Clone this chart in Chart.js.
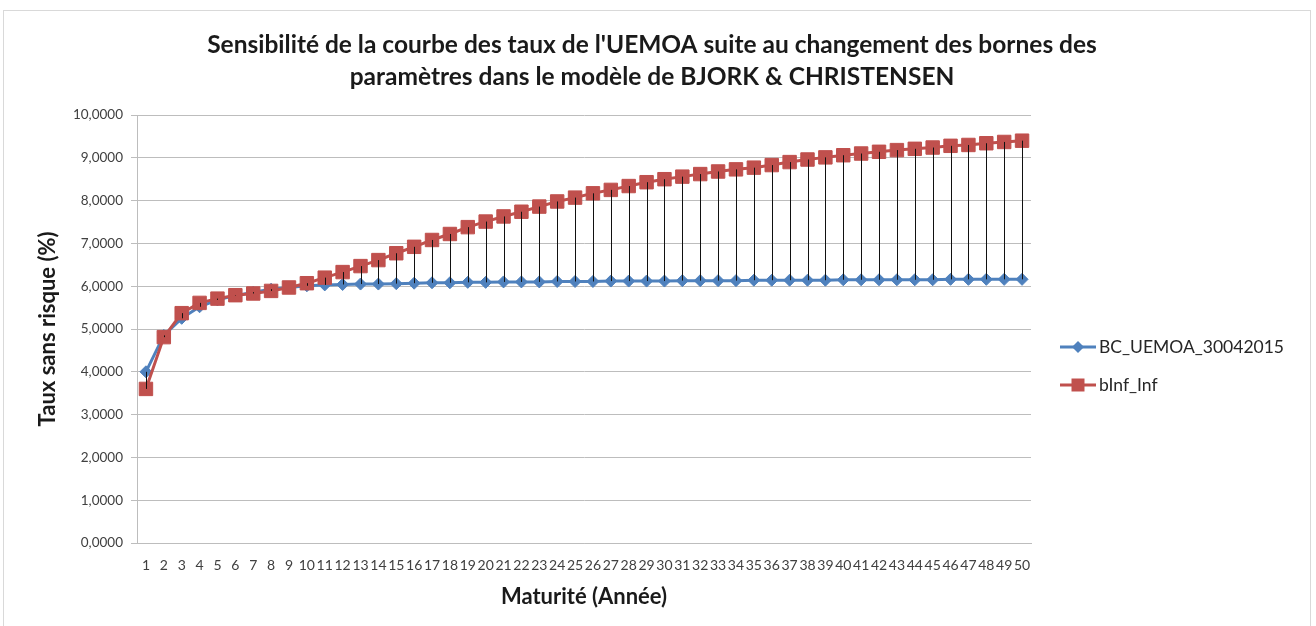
<!DOCTYPE html>
<html>
<head>
<meta charset="utf-8">
<script src="https://cdn.jsdelivr.net/npm/chart.js@4.4.1/dist/chart.umd.min.js"></script>
<style>
  html, body { margin: 0; padding: 0; background: #ffffff; }
  #wrap { position: relative; width: 1316px; height: 626px; overflow: hidden; }
  #frame { position: absolute; left: 3px; top: 10px; width: 1306px; height: 640px; border: 1px solid #d9d9d9; pointer-events: none; }
  canvas { position: absolute; left: 0; top: 0; }
</style>
</head>
<body>
<div id="wrap">
  <canvas id="chart" width="1316" height="626"></canvas>
  <div id="frame"></div>
</div>
<script>
// Maturités (années)
const maturites = ['1','2','3','4','5','6','7','8','9','10',
  '11','12','13','14','15','16','17','18','19','20',
  '21','22','23','24','25','26','27','28','29','30',
  '31','32','33','34','35','36','37','38','39','40',
  '41','42','43','44','45','46','47','48','49','50'];

// Courbe de référence BC_UEMOA_30042015 (%)
const bcUemoa = [4.00, 4.85, 5.25, 5.52, 5.68, 5.78, 5.86, 5.93, 5.97, 6.01,
  6.03, 6.04, 6.05, 6.05, 6.06, 6.07, 6.08, 6.08, 6.09, 6.09,
  6.10, 6.10, 6.10, 6.11, 6.11, 6.11, 6.12, 6.12, 6.12, 6.12,
  6.13, 6.13, 6.13, 6.13, 6.14, 6.14, 6.14, 6.14, 6.14, 6.15,
  6.15, 6.15, 6.15, 6.15, 6.15, 6.16, 6.16, 6.16, 6.16, 6.16];

// Courbe avec bornes bInf_Inf (%)
const bInfInf = [3.60, 4.81, 5.37, 5.61, 5.71, 5.79, 5.83, 5.89, 5.97, 6.07,
  6.20, 6.33, 6.47, 6.61, 6.77, 6.92, 7.08, 7.22, 7.38, 7.51,
  7.63, 7.74, 7.86, 7.98, 8.07, 8.17, 8.25, 8.34, 8.43, 8.50,
  8.56, 8.62, 8.68, 8.73, 8.77, 8.83, 8.90, 8.96, 9.01, 9.06,
  9.10, 9.14, 9.18, 9.21, 9.24, 9.28, 9.30, 9.34, 9.37, 9.40];

// Axe des taux
const yMin = 0, yMax = 10, yStep = 1;

// Titre sur deux lignes
const titreLignes = ["Sensibilité de la courbe des taux de l'UEMOA suite au changement des bornes des",
  'paramètres dans le modèle de BJORK & CHRISTENSEN'];

const FONT = 'Lato, "Open Sans", "Liberation Sans", sans-serif';
const BLUE = '#4F81BD';
const RED = '#C0504D';

// Titre centré sur toute la largeur du graphique
const wideTitle = {
  id: 'wideTitle',
  afterDraw(chart) {
    const ctx = chart.ctx;
    const top = chart.chartArea.top;
    const cx = chart.width / 2 - 6;
    ctx.save();
    ctx.fillStyle = '#1a1a1a';
    ctx.font = 'bold 24.5px ' + FONT;
    ctx.textAlign = 'center';
    ctx.textBaseline = 'middle';
    ctx.fillText(titreLignes[0], cx, top - 70);
    ctx.fillText(titreLignes[1], cx, top - 38);
    ctx.restore();
  }
};

// Lignes haut-bas entre les deux séries, pour chaque maturité
const hiLoLines = {
  id: 'hiLoLines',
  afterDatasetsDraw(chart) {
    const a = chart.getDatasetMeta(0).data;
    const b = chart.getDatasetMeta(1).data;
    const ctx = chart.ctx;
    ctx.save();
    ctx.strokeStyle = '#111111';
    ctx.lineWidth = 1;
    ctx.beginPath();
    for (let i = 0; i < a.length; i++) {
      const x = Math.round(a[i].x) + 0.5;
      ctx.moveTo(x, a[i].y);
      ctx.lineTo(x, b[i].y);
    }
    ctx.stroke();
    ctx.restore();
  }
};

// Légende à droite : trait + marqueur, puis le nom de la série
const sideLegend = {
  id: 'sideLegend',
  afterDraw(chart) {
    const ctx = chart.ctx;
    const area = chart.chartArea;
    const x0 = area.right + 29;
    const rows = [area.top + 232, area.top + 270];
    chart.data.datasets.forEach((ds, i) => {
      const y = rows[i];
      ctx.save();
      ctx.strokeStyle = ds.borderColor;
      ctx.fillStyle = ds.backgroundColor;
      ctx.lineWidth = 3;
      ctx.beginPath();
      ctx.moveTo(x0, y);
      ctx.lineTo(x0 + 36, y);
      ctx.stroke();
      const cx = x0 + 18;
      ctx.beginPath();
      if (ds.pointStyle === 'rectRot') {
        const r = 6;
        ctx.moveTo(cx - r, y); ctx.lineTo(cx, y - r); ctx.lineTo(cx + r, y); ctx.lineTo(cx, y + r);
        ctx.closePath();
      } else {
        const h = 6.5;
        ctx.rect(cx - h, y - h, 2 * h, 2 * h);
      }
      ctx.fill();
      ctx.fillStyle = '#262626';
      ctx.font = '17.5px ' + FONT;
      ctx.textAlign = 'left';
      ctx.textBaseline = 'middle';
      ctx.fillText(ds.label, x0 + 39, y);
      ctx.restore();
    });
  }
};

new Chart(document.getElementById('chart'), {
  type: 'line',
  data: {
    labels: maturites,
    datasets: [
      {
        label: 'BC_UEMOA_30042015',
        data: bcUemoa,
        borderColor: BLUE,
        backgroundColor: BLUE,
        borderWidth: 3,
        pointStyle: 'rectRot',
        pointRadius: 6,
        pointBorderWidth: 1,
        pointBackgroundColor: BLUE,
        pointBorderColor: BLUE,
        tension: 0,
        order: 1
      },
      {
        label: 'bInf_Inf',
        data: bInfInf,
        borderColor: RED,
        backgroundColor: RED,
        borderWidth: 3,
        pointStyle: 'rect',
        pointRadius: 9.5,
        pointBorderWidth: 1,
        pointBackgroundColor: RED,
        pointBorderColor: RED,
        tension: 0,
        order: 0
      }
    ]
  },
  options: {
    responsive: false,
    animation: false,
    events: [],
    devicePixelRatio: 1,
    layout: { padding: { left: 0, right: 285, top: 115, bottom: 0 } },
    plugins: {
      legend: { display: false },
      tooltip: { enabled: false },
      title: { display: false }
    },
    scales: {
      x: {
        offset: true,
        grid: { display: false, drawTicks: false },
        border: { display: true, color: '#bdbdbd', width: 1 },
        ticks: {
          autoSkip: false, maxRotation: 0, minRotation: 0,
          color: '#404040',
          font: { family: FONT, size: 14 },
          padding: 14
        },
        title: {
          display: true,
          text: 'Maturité (Année)',
          color: '#1a1a1a',
          font: { family: FONT, size: 22, weight: 'bold' },
          padding: { top: 0, bottom: 16 }
        },
        afterFit(scale) { scale.height = 83; }
      },
      y: {
        min: yMin,
        max: yMax,
        grid: { color: '#bdbdbd', lineWidth: 1, drawTicks: true, tickLength: 6 },
        border: { display: true, color: '#bdbdbd', width: 1 },
        ticks: {
          stepSize: yStep,
          color: '#404040',
          font: { family: FONT, size: 13.5 },
          padding: 8,
          callback: (v) => Number(v).toFixed(4).replace('.', ',')
        },
        title: {
          display: true,
          text: 'Taux sans risque (%)',
          color: '#1a1a1a',
          font: { family: FONT, size: 22, weight: 'bold' },
          padding: { top: 35, bottom: 0 }
        },
        afterFit(scale) { scale.width = 137; }
      }
    }
  },
  plugins: [hiLoLines, sideLegend, wideTitle]
});
</script>
</body>
</html>
